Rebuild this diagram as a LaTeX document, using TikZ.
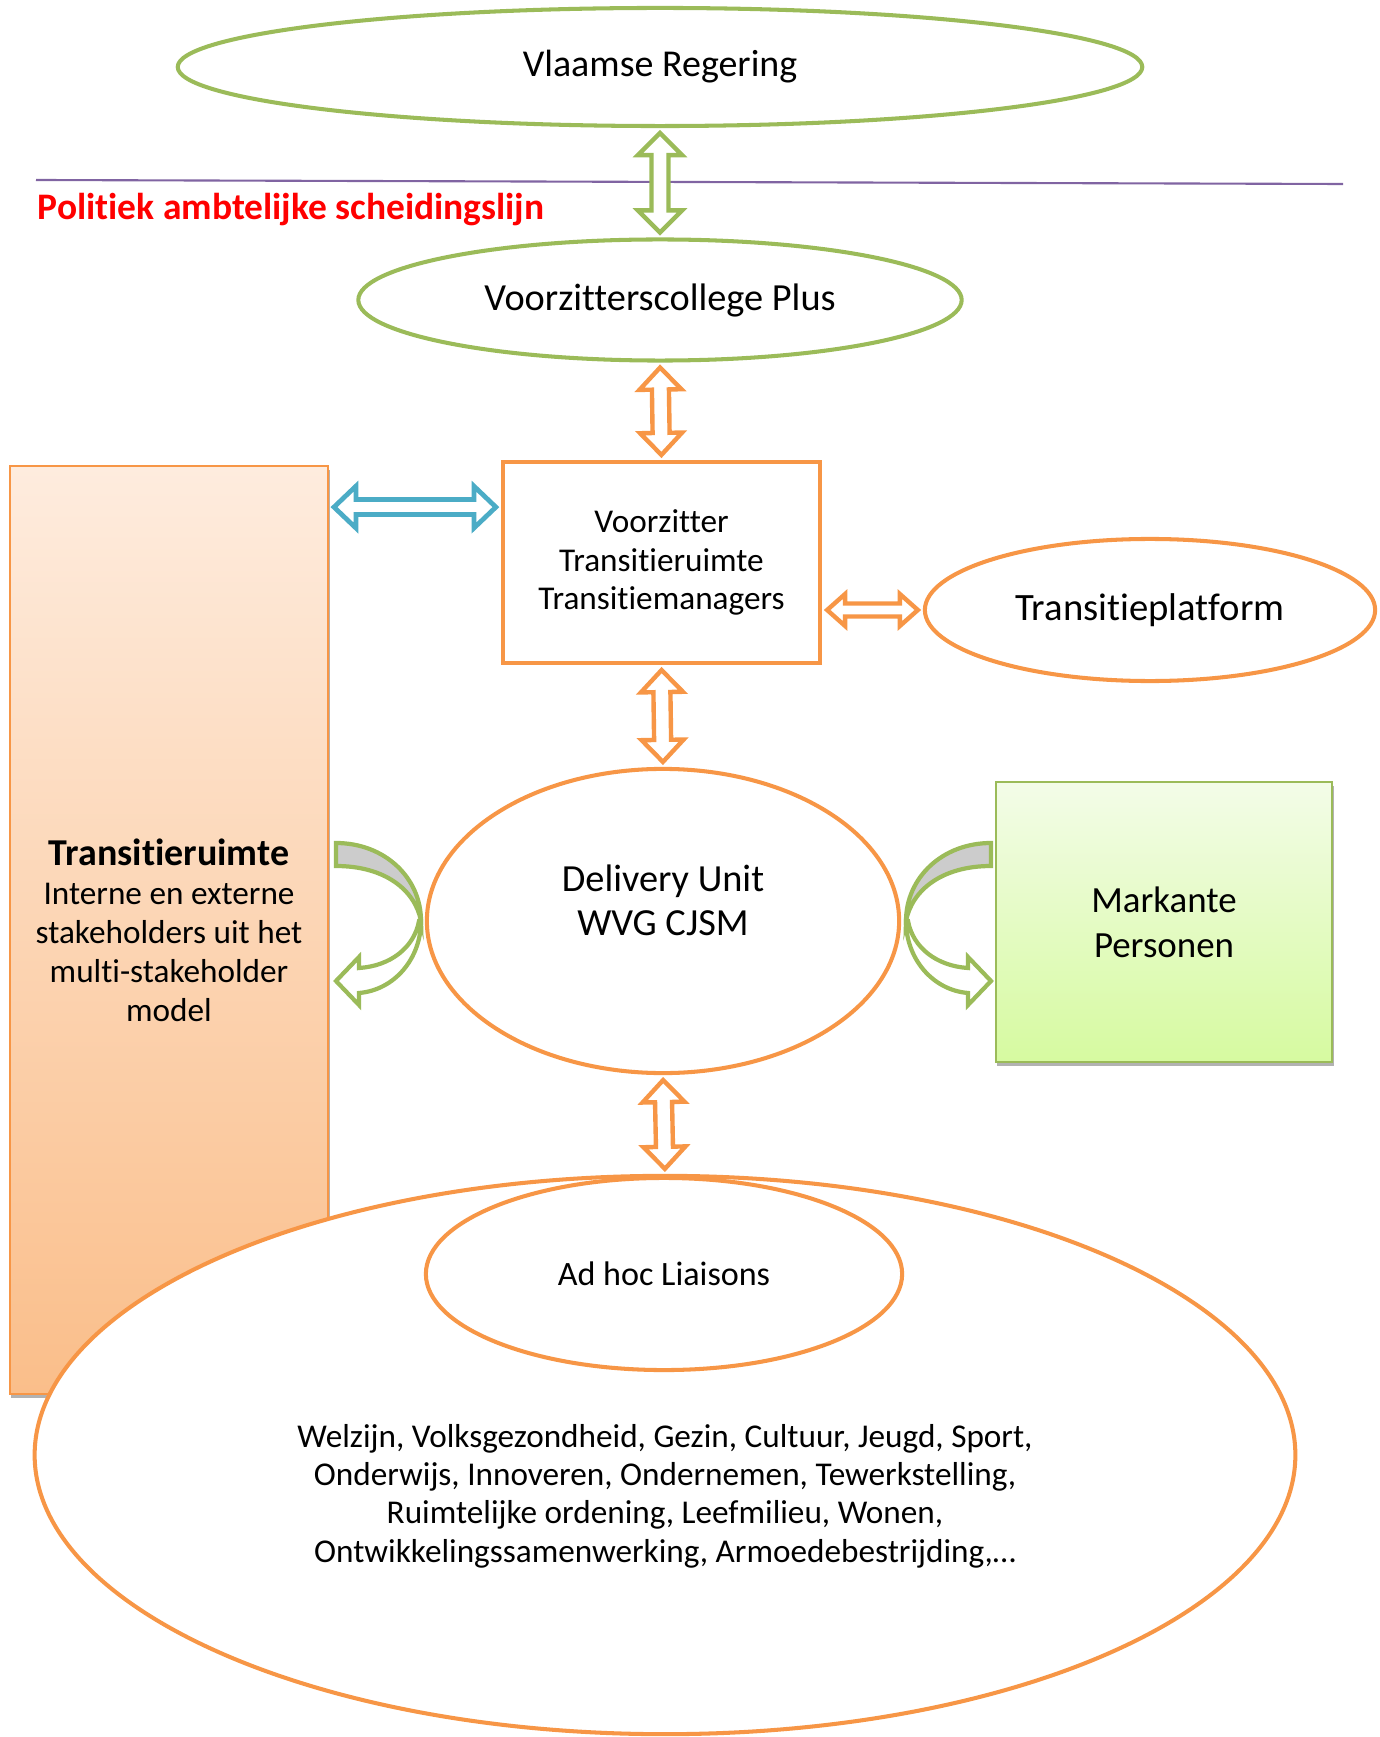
\documentclass[tikz,border=0pt]{standalone}
\usepackage{fontspec}
\setmainfont{Carlito}[Ligatures=CommonOff]
\usetikzlibrary{shapes.geometric, calc, shadows}

\definecolor{vgreen}{RGB}{155,187,89}
\definecolor{vorange}{RGB}{247,150,70}
\definecolor{vblue}{RGB}{75,172,198}
\definecolor{vpurple}{RGB}{128,100,162}
\definecolor{vgray}{RGB}{204,204,204}
\definecolor{trtop}{RGB}{254,236,222}
\definecolor{trbot}{RGB}{250,190,138}
\definecolor{mptop}{RGB}{243,252,232}
\definecolor{mpbot}{RGB}{214,250,160}

\newcommand{\arrgap}{0.05cm}
% hollow double arrow: style, from, to, head length, head half width, shaft half width
\newcommand{\dblarrow}[6]{%
  \draw[#1] let \p1=($(#2)!\arrgap!(#3)$), \p2=($(#3)!\arrgap!(#2)$),
    \p3=($(\p1)!#4!(\p2)$), \p4=($(\p2)!#4!(\p1)$) in
    (\p1) -- ($(\p3)!#5!90:(\p2)$) -- ($(\p3)!#6!90:(\p2)$) -- ($(\p4)!#6!-90:(\p1)$)
    -- ($(\p4)!#5!-90:(\p1)$) -- (\p2) -- ($(\p4)!#5!90:(\p1)$) -- ($(\p4)!#6!90:(\p1)$)
    -- ($(\p3)!#6!-90:(\p2)$) -- ($(\p3)!#5!-90:(\p2)$) -- cycle;}

\tikzset{
  ell/.style={ellipse, fill=white, line width=1.15pt, inner sep=0pt},
  bigfont/.style={font=\fontsize{10.9}{12.8}\selectfont},
  midfont/.style={font=\fontsize{10.9}{12.5}\selectfont},
  smallfont/.style={font=\fontsize{9.45}{10.9}\selectfont},
  garrow/.style={draw=vgreen, fill=white, line width=1.25pt, line join=miter},
  oarrow/.style={draw=vorange, fill=white, line width=1.25pt, line join=miter},
  barrow/.style={draw=vblue, fill=white, line width=1.35pt, line join=miter},
  softshadow/.style={drop shadow={shadow xshift=0.015cm, shadow yshift=-0.04cm, opacity=0.3, fill=black}}
}

\begin{document}
\begin{tikzpicture}[x=0.01cm, y=-0.01cm]
  \useasboundingbox (0,0) rectangle (1379,1737);

  % political level
  \node[ell, draw=vgreen, minimum width=9.64cm, minimum height=1.18cm, font=\fontsize{10.8}{12.8}\selectfont] (vr) at (660,67) {Vlaamse Regering};
  \coordinate (sepl) at (36,180);
  \coordinate (sepr) at (1343,184);
  \draw[vpurple, line width=0.6pt] (sepl) -- (sepr);
  \node[anchor=base west, inner sep=0pt, text=red, font=\fontsize{10.65}{12}\selectfont\bfseries] (sep) at (37,220) {Politiek ambtelijke scheidingslijn};
  \node[ell, draw=vgreen, minimum width=6.03cm, minimum height=1.21cm, bigfont] (vcp) at (660,300) {Voorzitterscollege Plus};

  % middle
  \node[rectangle, draw=vorange, line width=0.5pt, top color=trtop, bottom color=trbot, softshadow,
        minimum width=3.18cm, minimum height=9.28cm, align=center, font=\fontsize{9.45}{11.1}\selectfont] (tr) at (169,930)
        {{\fontsize{10.8}{12}\selectfont\bfseries Transitieruimte}\\Interne en externe\\stakeholders uit het\\multi-stakeholder\\model};
  \node[rectangle, draw=vorange, line width=1.15pt, fill=white, minimum width=3.17cm, minimum height=2.01cm,
        align=center, smallfont] (box) at (661.5,562.5) {Voorzitter\\Transitieruimte\\Transitiemanagers};
  \node[ell, draw=vorange, minimum width=4.5cm, minimum height=1.42cm, font=\fontsize{11}{12.8}\selectfont] (tp) at (1150,610) {Transitieplatform};
  \node[ell, draw=vorange, minimum width=4.72cm, minimum height=3.04cm] (du) at (663,921) {};
  \node[midfont, align=center] (dutext) at (663,900) {Delivery Unit\\WVG CJSM};
  \node[rectangle, draw=vgreen, line width=0.6pt, top color=mptop, bottom color=mpbot, softshadow,
        minimum width=3.36cm, minimum height=2.8cm, align=center, font=\fontsize{10.5}{12.8}\selectfont] (mp) at (1164,922) {Markante\\Personen};

  % bottom
  \node[ell, draw=vorange, minimum width=12.6cm, minimum height=5.58cm] (big) at (665,1455) {};
  \node[ell, draw=vorange, minimum width=4.76cm, minimum height=1.92cm, font=\fontsize{9.7}{11}\selectfont] (ah) at (664,1274) {Ad hoc Liaisons};
  \node[font=\fontsize{9.45}{10.9}\selectfont, align=center] (fields) at (665,1496)
        {Welzijn, Volksgezondheid, Gezin, Cultuur, Jeugd, Sport,\\Onderwijs, Innoveren, Ondernemen, Tewerkstelling,\\Ruimtelijke ordening, Leefmilieu, Wonen,\\Ontwikkelingssamenwerking, Armoedebestrijding,\dots};

  % arrows
  \dblarrow{garrow}{vr.south}{vcp.north}{0.22cm}{0.22cm}{0.085cm}
  \dblarrow{oarrow}{vcp.south}{box.north}{0.22cm}{0.21cm}{0.085cm}
  \dblarrow{oarrow}{box.south}{du.north}{0.22cm}{0.21cm}{0.085cm}
  \dblarrow{oarrow}{du.south}{big.north}{0.22cm}{0.21cm}{0.085cm}
  \dblarrow{oarrow}{box.east |- tp.west}{tp.west}{0.18cm}{0.16cm}{0.065cm}
  \coordinate (bl) at ($(box.north west)!0.23!(box.south west)$);
  \dblarrow{barrow}{tr.east |- bl}{bl}{0.22cm}{0.21cm}{0.075cm}

  % curved arrows
  \begin{scope}[draw=vgreen, line width=1.2pt]
    \filldraw[fill=white] (421,921) .. controls (421,958) and (395,990) .. (359,993) -- (359,1005) -- (336,981)
      -- (359,957) -- (359,968) .. controls (390,966) and (414,948) .. (419,921) -- cycle;
    \filldraw[fill=vgray] (336,843) .. controls (385,843) and (421,878) .. (421,921)
      .. controls (415,890) and (385,866) .. (336,866) -- cycle;
  \end{scope}
  \begin{scope}[shift={(1327,0)}, xscale=-1, draw=vgreen, line width=1.2pt]
    \filldraw[fill=white] (421,921) .. controls (421,958) and (395,990) .. (359,993) -- (359,1005) -- (336,981)
      -- (359,957) -- (359,968) .. controls (390,966) and (414,948) .. (419,921) -- cycle;
    \filldraw[fill=vgray] (336,843) .. controls (385,843) and (421,878) .. (421,921)
      .. controls (415,890) and (385,866) .. (336,866) -- cycle;
  \end{scope}
\end{tikzpicture}
\end{document}
